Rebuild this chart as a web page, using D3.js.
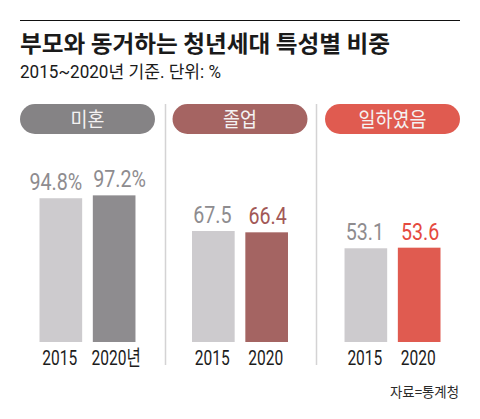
<!DOCTYPE html>
<html><head><meta charset="utf-8">
<script src="https://cdn.jsdelivr.net/npm/d3@7"></script>
<style>
html,body{margin:0;padding:0;background:#fff;}
svg{display:block;}
</style></head>
<body>
<script>
const title = "부모와 동거하는 청년세대 특성별 비중";
const subtitle = "2015~2020년 기준. 단위: %";
const source = "자료=통계청";
const categories = ["미혼", "졸업", "일하였음"];
const years = ["2015", "2020"];
const values2015 = [94.8, 67.5, 53.1];
const values2020 = [97.2, 66.4, 53.6];
const valueLabels2015 = ["94.8%", "67.5", "53.1"];
const valueLabels2020 = ["97.2%", "66.4", "53.6"];
const yearLabels = [["2015", "2020년"], ["2015", "2020"], ["2015", "2020"]];
const catColors = ["#858385", "#a56462", "#e05b50"];
const bar2020Colors = ["#8e8c8f", "#a46462", "#e05b50"];
const label2020Colors = ["#8e8c8f", "#a25856", "#e5493e"];

const W = 480, H = 419;
const svg = d3.select("body").append("svg").attr("width", W).attr("height", H);
const cond = "'Roboto','Noto Sans CJK KR',sans-serif";
const kr = "'Noto Sans CJK KR','Noto Sans',sans-serif";

function condText(sel, x, yy, str, sx) {
  return sel.append("text").attr("transform", `translate(${x},${yy}) scale(${sx},1)`)
    .attr("x", 0).attr("y", 0).text(str);
}

// top rule
svg.append("line").attr("x1", 20).attr("x2", 460).attr("y1", 20.5).attr("y2", 20.5)
  .attr("stroke", "#111").attr("stroke-width", 1.2);

svg.append("text").attr("x", 20).attr("y", 52).text(title)
  .attr("font-family", kr).attr("font-weight", 700).attr("font-size", 23)
  .attr("fill", "#1a1a1a").attr("textLength", 370).attr("lengthAdjust", "spacingAndGlyphs");

svg.append("text").attr("x", 20).attr("y", 77.5).text(subtitle)
  .attr("font-family", cond).attr("font-size", 17.5)
  .attr("fill", "#1a1a1a").attr("textLength", 201).attr("lengthAdjust", "spacingAndGlyphs");

// panels
const panel = d3.scaleBand().domain(categories).range([20, 460]).paddingInner(0.115).paddingOuter(0);
const y = d3.scaleLinear().domain([-25, 100]).range([342, 192]);

// dividers
[165.5, 316.5].forEach(x => {
  svg.append("line").attr("x1", x).attr("x2", x).attr("y1", 104).attr("y2", 365)
    .attr("stroke", "#d4d3d4").attr("stroke-width", 1.5);
});

categories.forEach((c, i) => {
  const px = panel(c), pw = panel.bandwidth();
  const g = svg.append("g");
  g.append("rect").attr("x", px).attr("y", 104).attr("width", pw).attr("height", 30)
    .attr("rx", 15).attr("ry", 15).attr("fill", catColors[i]);
  condText(g, px + pw / 2, 127, c, 0.9).attr("text-anchor", "middle")
    .attr("font-family", kr).attr("font-size", 20.5).attr("fill", "#f4f2f2");

  const x = d3.scaleBand().domain(years).range([px + 19.5, px + pw - 19.5]).paddingInner(0.2);
  const vals = [values2015[i], values2020[i]];
  const labs = [valueLabels2015[i], valueLabels2020[i]];
  const fills = ["#cdcbce", bar2020Colors[i]];
  const lcols = ["#8e8c8f", label2020Colors[i]];
  years.forEach((yr, j) => {
    const cx = x(yr) + x.bandwidth() / 2;
    g.append("rect").attr("x", x(yr)).attr("width", x.bandwidth())
      .attr("y", y(vals[j])).attr("height", y(-25) - y(vals[j])).attr("fill", fills[j]);
    const wide = labs[j].endsWith("%");
    const nudge = wide ? (j === 0 ? -5 : 5.5) : (j === 0 ? -1 : 1);
    condText(g, cx + nudge, y(vals[j]) - 8, labs[j], 0.82).attr("text-anchor", "middle")
      .attr("font-family", cond).attr("font-size", 24).attr("fill", lcols[j]);
    const yl = yearLabels[i][j];
    condText(g, cx + (yl.length > 4 ? 2 : -1), 365, yl, 0.74).attr("text-anchor", "middle")
      .attr("font-family", cond).attr("font-size", 21).attr("fill", "#1c1c1c");
  });
});

svg.append("text").attr("x", 459).attr("y", 397).attr("text-anchor", "end").text(source)
  .attr("font-family", kr).attr("font-size", 14).attr("fill", "#2a2a2a")
  .attr("textLength", 69).attr("lengthAdjust", "spacingAndGlyphs");
</script>
</body></html>
